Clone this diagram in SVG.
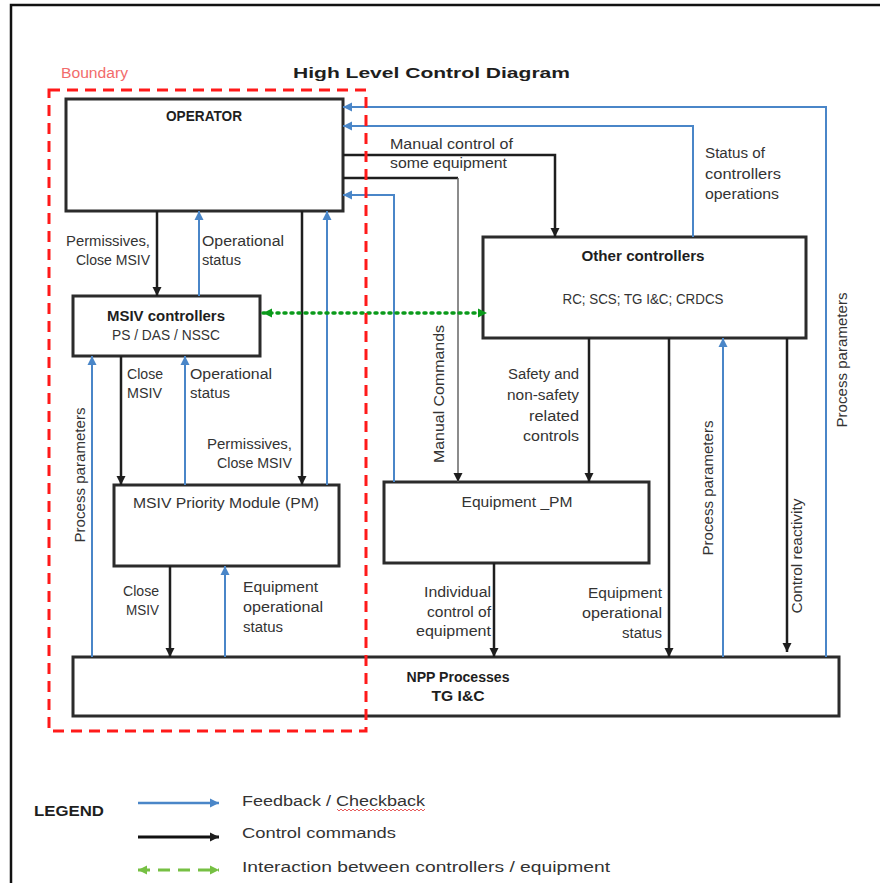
<svg xmlns="http://www.w3.org/2000/svg" width="880" height="883" viewBox="0 0 880 883">
<defs>
<style>
.t{font-family:"Liberation Sans",Arial,sans-serif;font-size:14px;fill:#333}
.b{font-weight:bold;fill:#1e1e1e}
.m{text-anchor:middle}
.e{text-anchor:end}
.box{fill:#fff;stroke:#2b2b2b;stroke-width:3}
.k{fill:none;stroke:#1e1e1e;stroke-width:2.5;marker-end:url(#ak)}
.u{fill:none;stroke:#4a86c8;stroke-width:2;marker-end:url(#au)}
</style>
<marker id="ak" markerUnits="userSpaceOnUse" markerWidth="10" markerHeight="10" refX="9" refY="5" orient="auto-start-reverse"><path d="M0,0.5 L9,5 L0,9.5 z" fill="#1e1e1e"/></marker>
<marker id="au" markerUnits="userSpaceOnUse" markerWidth="10" markerHeight="10" refX="9" refY="5" orient="auto-start-reverse"><path d="M0,0.5 L9,5 L0,9.5 z" fill="#4a86c8"/></marker>
<marker id="ag" markerUnits="userSpaceOnUse" markerWidth="10" markerHeight="10" refX="9" refY="5" orient="auto-start-reverse"><path d="M0,0.5 L9,5 L0,9.5 z" fill="#0a9a1a"/></marker>
<marker id="al" markerUnits="userSpaceOnUse" markerWidth="10" markerHeight="10" refX="9" refY="5" orient="auto-start-reverse"><path d="M0,0.5 L9,5 L0,9.5 z" fill="#76c043"/></marker>
</defs>
<rect width="880" height="883" fill="#fff"/>
<path d="M11,895 V5 H895" fill="none" stroke="#111" stroke-width="2.5"/>
<text class="t b" x="293" y="78" font-size="21" textLength="277" lengthAdjust="spacingAndGlyphs">High Level Control Diagram</text>
<g id="operator">
<rect class="box" x="66" y="99" width="277" height="112"/>
<text class="t b m" x="204" y="121" font-size="13" textLength="76" lengthAdjust="spacingAndGlyphs">OPERATOR</text>
</g>
<g id="msiv-controllers">
<rect class="box" x="73" y="296" width="187" height="60"/>
<text class="t b m" x="166" y="321" textLength="118" lengthAdjust="spacingAndGlyphs">MSIV controllers</text>
<text class="t m" x="166" y="340" textLength="108" lengthAdjust="spacingAndGlyphs">PS / DAS / NSSC</text>
</g>
<g id="msiv-pm">
<rect class="box" x="114" y="485" width="225" height="81"/>
<text class="t m" x="226" y="508" textLength="186" lengthAdjust="spacingAndGlyphs">MSIV Priority Module (PM)</text>
</g>
<g id="other-controllers">
<rect class="box" x="483" y="237" width="323" height="101"/>
<text class="t b m" x="643" y="261" textLength="123" lengthAdjust="spacingAndGlyphs">Other controllers</text>
<text class="t m" x="643" y="304" textLength="161" lengthAdjust="spacingAndGlyphs">RC; SCS; TG I&amp;C; CRDCS</text>
</g>
<g id="equipment-pm">
<rect class="box" x="384" y="482" width="265" height="81"/>
<text class="t m" x="517" y="507" textLength="111" lengthAdjust="spacingAndGlyphs">Equipment _PM</text>
</g>
<g id="npp">
<rect class="box" x="73" y="657" width="766" height="59"/>
<text class="t b m" x="458" y="682" textLength="103" lengthAdjust="spacingAndGlyphs">NPP Processes</text>
<text class="t b m" x="458" y="701" textLength="53" lengthAdjust="spacingAndGlyphs">TG I&amp;C</text>
</g>
<g id="connectors">
<path class="k" d="M157,211 V296"/>
<path class="k" d="M302,211 V485"/>
<path class="k" d="M343,155 H555 V237"/>
<path d="M343,178 H458" fill="none" stroke="#1e1e1e" stroke-width="2.5"/>
<path d="M458,178 V482" fill="none" stroke="#666" stroke-width="1.5" marker-end="url(#ak)"/>
<path class="k" d="M121,356 V485"/>
<path class="k" d="M170,566 V657"/>
<path class="k" d="M494,563 V657"/>
<path class="k" d="M589,338 V482"/>
<path class="k" d="M669,338 V657"/>
<path class="k" d="M787,338 V652"/>
<path class="u" d="M199,296 V211"/>
<path class="u" d="M327,485 V211"/>
<path class="u" d="M394,482 V195 H343"/>
<path class="u" d="M693,237 V126 H343"/>
<path class="u" d="M826,657 V107 H343"/>
<path class="u" d="M185,485 V356"/>
<path class="u" d="M92,657 V356"/>
<path class="u" d="M225,657 V566"/>
<path class="u" d="M723,657 V338" stroke="#2f7fd0"/>
<path d="M263,313 H487" fill="none" stroke="#0a9a1a" stroke-width="3.5" stroke-dasharray="2,5" stroke-linecap="round" marker-start="url(#ag)" marker-end="url(#ag)"/>
</g>
<g id="labels">
<text class="t" x="390" y="149" textLength="123" lengthAdjust="spacingAndGlyphs">Manual control of</text>
<text class="t" x="390" y="168" textLength="117" lengthAdjust="spacingAndGlyphs">some equipment</text>
<text class="t" x="705" y="158" textLength="60" lengthAdjust="spacingAndGlyphs">Status of</text>
<text class="t" x="705" y="179" textLength="76" lengthAdjust="spacingAndGlyphs">controllers</text>
<text class="t" x="705" y="199" textLength="74" lengthAdjust="spacingAndGlyphs">operations</text>
<text class="t e" x="150" y="246" textLength="84" lengthAdjust="spacingAndGlyphs">Permissives,</text>
<text class="t e" x="150" y="265" textLength="74" lengthAdjust="spacingAndGlyphs">Close MSIV</text>
<text class="t" x="202" y="246" textLength="82" lengthAdjust="spacingAndGlyphs">Operational</text>
<text class="t" x="202" y="265" textLength="39" lengthAdjust="spacingAndGlyphs">status</text>
<text class="t" x="127" y="379" textLength="36" lengthAdjust="spacingAndGlyphs">Close</text>
<text class="t" x="127" y="398" textLength="35" lengthAdjust="spacingAndGlyphs">MSIV</text>
<text class="t" x="190" y="379" textLength="82" lengthAdjust="spacingAndGlyphs">Operational</text>
<text class="t" x="190" y="398" textLength="40" lengthAdjust="spacingAndGlyphs">status</text>
<text class="t e" x="292" y="449" textLength="85" lengthAdjust="spacingAndGlyphs">Permissives,</text>
<text class="t e" x="292" y="468" textLength="75" lengthAdjust="spacingAndGlyphs">Close MSIV</text>
<text class="t m" transform="translate(85,475) rotate(-90)" textLength="135" lengthAdjust="spacingAndGlyphs">Process parameters</text>
<text class="t m" transform="translate(444,394) rotate(-90)" textLength="138" lengthAdjust="spacingAndGlyphs">Manual Commands</text>
<text class="t e" x="579" y="379" textLength="71" lengthAdjust="spacingAndGlyphs">Safety and</text>
<text class="t e" x="579" y="400" textLength="72" lengthAdjust="spacingAndGlyphs">non-safety</text>
<text class="t e" x="579" y="421" textLength="50" lengthAdjust="spacingAndGlyphs">related</text>
<text class="t e" x="579" y="441" textLength="56" lengthAdjust="spacingAndGlyphs">controls</text>
<text class="t m" transform="translate(713,488) rotate(-90)" textLength="135" lengthAdjust="spacingAndGlyphs">Process parameters</text>
<text class="t m" transform="translate(802,556) rotate(-90)" textLength="115" lengthAdjust="spacingAndGlyphs">Control reactivity</text>
<text class="t m" transform="translate(847,360) rotate(-90)" textLength="135" lengthAdjust="spacingAndGlyphs">Process parameters</text>
<text class="t e" x="159" y="596" textLength="36" lengthAdjust="spacingAndGlyphs">Close</text>
<text class="t e" x="159" y="615" textLength="33" lengthAdjust="spacingAndGlyphs">MSIV</text>
<text class="t" x="243" y="592" textLength="75" lengthAdjust="spacingAndGlyphs">Equipment</text>
<text class="t" x="243" y="612" textLength="80" lengthAdjust="spacingAndGlyphs">operational</text>
<text class="t" x="243" y="632" textLength="40" lengthAdjust="spacingAndGlyphs">status</text>
<text class="t e" x="491" y="597" textLength="67" lengthAdjust="spacingAndGlyphs">Individual</text>
<text class="t e" x="491" y="617" textLength="64" lengthAdjust="spacingAndGlyphs">control of</text>
<text class="t e" x="491" y="636" textLength="75" lengthAdjust="spacingAndGlyphs">equipment</text>
<text class="t e" x="662" y="598" textLength="74" lengthAdjust="spacingAndGlyphs">Equipment</text>
<text class="t e" x="662" y="618" textLength="80" lengthAdjust="spacingAndGlyphs">operational</text>
<text class="t e" x="662" y="638" textLength="40" lengthAdjust="spacingAndGlyphs">status</text>
</g>
<g id="boundary">
<rect x="49" y="90" width="317" height="641" fill="none" stroke="#ff1a1a" stroke-width="3" stroke-dasharray="11,7"/>
<text class="t" x="61" y="78" font-size="12" style="fill:#f26b6b" textLength="67" lengthAdjust="spacingAndGlyphs">Boundary</text>
</g>
<g id="legend">
<text class="t b" x="34" y="816" font-size="15" textLength="70" lengthAdjust="spacingAndGlyphs">LEGEND</text>
<path d="M138,803 H219" fill="none" stroke="#4a86c8" stroke-width="2.5" marker-end="url(#au)"/>
<text class="t" x="242" y="806" font-size="17" textLength="183" lengthAdjust="spacingAndGlyphs">Feedback / Checkback</text>
<path d="M337,809 l2,2 l2,-2 l2,2 l2,-2 l2,2 l2,-2 l2,2 l2,-2 l2,2 l2,-2 l2,2 l2,-2 l2,2 l2,-2 l2,2 l2,-2 l2,2 l2,-2 l2,2 l2,-2 l2,2 l2,-2 l2,2 l2,-2 l2,2 l2,-2 l2,2 l2,-2 l2,2 l2,-2 l2,2 l2,-2 l2,2 l2,-2 l2,2 l2,-2 l2,2 l2,-2 l2,2 l2,-2 l2,2 l2,-2 l2,2 l2,-2" fill="none" stroke="#e03030" stroke-width="0.8"/>
<path d="M138,837 H219" fill="none" stroke="#111" stroke-width="3" marker-end="url(#ak)"/>
<text class="t" x="242" y="838" font-size="17" textLength="154" lengthAdjust="spacingAndGlyphs">Control commands</text>
<path d="M138,870 H219" fill="none" stroke="#76c043" stroke-width="3" stroke-dasharray="12,8" marker-start="url(#al)" marker-end="url(#al)"/>
<text class="t" x="242" y="872" font-size="17" textLength="368" lengthAdjust="spacingAndGlyphs">Interaction between controllers / equipment</text>
</g>
</svg>
